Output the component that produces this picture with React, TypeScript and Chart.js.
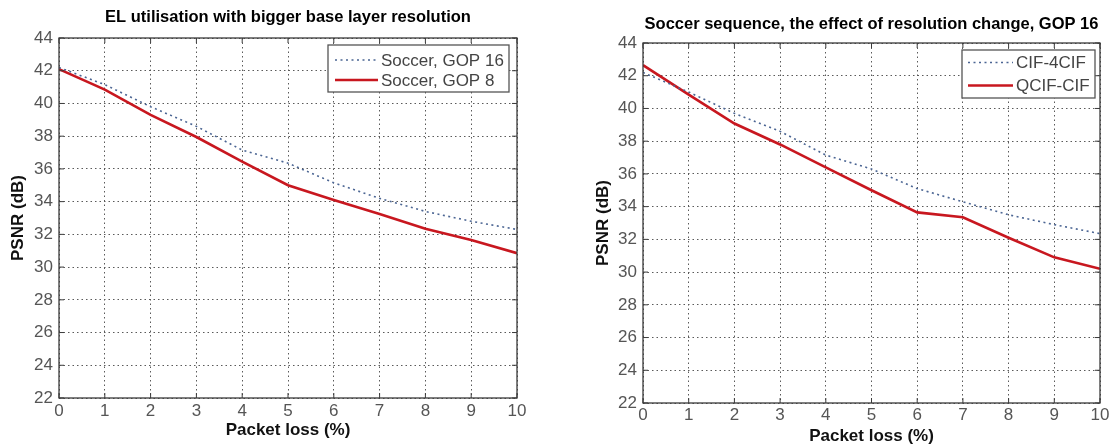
import React, { useEffect, useRef } from "react";
import { Chart, registerables } from "chart.js";

Chart.register(...registerables);

// ---------- data ----------
const packetLoss = [0, 1, 2, 3, 4, 5, 6, 7, 8, 9, 10];

// Left chart: EL utilisation with bigger base layer resolution
const leftTitle = "EL utilisation with bigger base layer resolution";
const leftSeriesNames = ["Soccer, GOP 16", "Soccer, GOP 8"];
const leftGop16 = [42.2, 41.15, 39.8, 38.6, 37.15, 36.35, 35.15, 34.2, 33.4, 32.8, 32.3];
const leftGop8 = [42.1, 40.85, 39.3, 37.95, 36.45, 35.0, 34.1, 33.25, 32.35, 31.65, 30.85];

// Right chart: Soccer sequence, the effect of resolution change, GOP 16
const rightTitle = "Soccer sequence, the effect of resolution change, GOP 16";
const rightSeriesNames = ["CIF-4CIF", "QCIF-CIF"];
const rightCif4cif = [42.2, 41.0, 39.7, 38.6, 37.15, 36.3, 35.1, 34.3, 33.5, 32.9, 32.35];
const rightQcifCif = [42.65, 40.85, 39.08, 37.8, 36.4, 35.0, 33.65, 33.35, 32.1, 30.9, 30.2];

const xAxisTitle = "Packet loss (%)";
const yAxisTitle = "PSNR (dB)";
const xMin = 0;
const xMax = 10;
const yMin = 22;
const yMax = 44;
const yStep = 2;

// ---------- styling ----------
const FONT = '"Liberation Sans", Arial, Helvetica, sans-serif';
const RED = "#c8171f";
const BLUE = "#4b6593";
const TICK_COLOR = "#555";
const FRAME_COLOR = "#3a3a3a";

type PanelCfg = {
  left: number;
  width: number;
  title: string;
  titleY: number;
  names: string[];
  dotted: number[];
  solid: number[];
  yAxisWidth: number;
  xAxisHeight: number;
  padTop: number;
  padRight: number;
  yTitlePad: number;
  xTitlePadBottom: number;
  xTickPad: number;
  legend: {
    width: number;
    height: number;
    marginRight: number;
    marginTop: number;
    row1: number;
    rowH: number;
    padL: number;
    lineLen: number;
    gap: number;
  };
};

const panels: PanelCfg[] = [
  {
    left: 0,
    width: 560,
    title: leftTitle,
    titleY: 17.5,
    names: leftSeriesNames,
    dotted: leftGop16,
    solid: leftGop8,
    yAxisWidth: 59,
    xAxisHeight: 50,
    padTop: 38,
    padRight: 43,
    yTitlePad: 8,
    xTitlePadBottom: 7.8,
    xTickPad: 3,
    legend: { width: 181, height: 47, marginRight: 8, marginTop: 7, row1: 15, rowH: 20, padL: 7, lineLen: 43, gap: 3 },
  },
  {
    left: 560,
    width: 559,
    title: rightTitle,
    titleY: 24,
    names: rightSeriesNames,
    dotted: rightCif4cif,
    solid: rightQcifCif,
    yAxisWidth: 83,
    xAxisHeight: 45,
    padTop: 43,
    padRight: 19,
    yTitlePad: 33,
    xTitlePadBottom: 1,
    xTickPad: 2,
    legend: { width: 133, height: 48, marginRight: 5, marginTop: 7, row1: 12.5, rowH: 23, padL: 6, lineLen: 45, gap: 3 },
  },
];

function makePlugins(cfg: PanelCfg) {
  const titlePlugin = {
    id: "matlabTitle",
    afterDraw(chart: any) {
      const { ctx, chartArea } = chart;
      ctx.save();
      ctx.font = `bold 16.5px ${FONT}`;
      ctx.fillStyle = "#000";
      ctx.textAlign = "center";
      ctx.textBaseline = "middle";
      ctx.fillText(cfg.title, (chartArea.left + chartArea.right) / 2, cfg.titleY);
      ctx.restore();
    },
  };

  const framePlugin = {
    id: "matlabFrame",
    afterDatasetsDraw(chart: any) {
      const { ctx, chartArea } = chart;
      const xs = chart.scales.x;
      const ys = chart.scales.y;
      const { left, right, top, bottom } = chartArea;
      ctx.save();
      ctx.strokeStyle = FRAME_COLOR;
      ctx.lineWidth = 1.3;
      ctx.setLineDash([]);
      ctx.strokeRect(left, top, right - left, bottom - top);
      const tl = 5;
      ctx.lineWidth = 1;
      ctx.beginPath();
      xs.ticks.forEach((t: any) => {
        const px = xs.getPixelForValue(t.value);
        ctx.moveTo(px, bottom);
        ctx.lineTo(px, bottom - tl);
        ctx.moveTo(px, top);
        ctx.lineTo(px, top + tl);
      });
      ys.ticks.forEach((t: any) => {
        const py = ys.getPixelForValue(t.value);
        ctx.moveTo(left, py);
        ctx.lineTo(left + tl, py);
        ctx.moveTo(right, py);
        ctx.lineTo(right - tl, py);
      });
      ctx.stroke();
      ctx.restore();
    },
  };

  const legendPlugin = {
    id: "matlabLegend",
    afterDraw(chart: any) {
      const { ctx, chartArea } = chart;
      const L = cfg.legend;
      const bx = chartArea.right - L.marginRight - L.width;
      const by = chartArea.top + L.marginTop;
      ctx.save();
      ctx.fillStyle = "#fff";
      ctx.fillRect(bx, by, L.width, L.height);
      ctx.strokeStyle = "#555";
      ctx.lineWidth = 1.3;
      ctx.setLineDash([]);
      ctx.strokeRect(bx, by, L.width, L.height);
      chart.data.datasets.forEach((ds: any, i: number) => {
        const y = by + L.row1 + i * L.rowH;
        ctx.beginPath();
        ctx.strokeStyle = ds.borderColor;
        ctx.lineWidth = ds.borderWidth;
        ctx.setLineDash(ds.borderDash || []);
        ctx.moveTo(bx + L.padL, y);
        ctx.lineTo(bx + L.padL + L.lineLen, y);
        ctx.stroke();
        ctx.setLineDash([]);
        ctx.font = `17px ${FONT}`;
        ctx.fillStyle = "#444";
        ctx.textAlign = "left";
        ctx.textBaseline = "middle";
        ctx.fillText(ds.label, bx + L.padL + L.lineLen + L.gap, y + 1);
      });
      ctx.restore();
    },
  };

  const bgPlugin = {
    id: "whiteBg",
    beforeDraw(chart: any) {
      const { ctx, width, height } = chart;
      ctx.save();
      ctx.fillStyle = "#fff";
      ctx.fillRect(0, 0, width, height);
      ctx.restore();
    },
  };

  return [bgPlugin, framePlugin, titlePlugin, legendPlugin];
}

function Panel({ cfg }: { cfg: PanelCfg }) {
  const ref = useRef<HTMLCanvasElement | null>(null);

  useEffect(() => {
    if (!ref.current) return;
    const toPoints = (arr: number[]) => packetLoss.map((x, i) => ({ x, y: arr[i] }));
    const chart = new Chart(ref.current, {
      type: "line",
      data: {
        datasets: [
          {
            label: cfg.names[0],
            data: toPoints(cfg.dotted),
            borderColor: BLUE,
            borderWidth: 1.6,
            borderDash: [2, 3.5],
            pointRadius: 0,
            tension: 0,
            fill: false,
          },
          {
            label: cfg.names[1],
            data: toPoints(cfg.solid),
            borderColor: RED,
            borderWidth: 2.6,
            pointRadius: 0,
            tension: 0,
            fill: false,
          },
        ],
      },
      options: {
        responsive: false,
        animation: false,
        devicePixelRatio: 1,
        layout: { padding: { left: 0, top: cfg.padTop, right: cfg.padRight, bottom: 0 } },
        plugins: {
          legend: { display: false },
          title: { display: false },
          tooltip: { enabled: false },
        },
        scales: {
          x: {
            type: "linear",
            min: xMin,
            max: xMax,
            afterFit: (s: any) => {
              s.height = cfg.xAxisHeight;
            },
            ticks: {
              stepSize: 1,
              padding: cfg.xTickPad,
              color: TICK_COLOR,
              font: { family: FONT, size: 17 },
              maxRotation: 0,
            },
            grid: { color: "#5a5a5a", lineWidth: 1, drawTicks: false },
            border: { display: false, dash: [1.5, 3] },
            title: {
              display: true,
              text: xAxisTitle,
              color: "#111",
              font: { family: FONT, size: 17, weight: "bold" },
              padding: { top: 0, bottom: cfg.xTitlePadBottom },
            },
          },
          y: {
            type: "linear",
            min: yMin,
            max: yMax,
            afterFit: (s: any) => {
              s.width = cfg.yAxisWidth;
            },
            ticks: {
              stepSize: yStep,
              padding: 6,
              color: TICK_COLOR,
              font: { family: FONT, size: 17 },
            },
            grid: { color: "#5a5a5a", lineWidth: 1, drawTicks: false },
            border: { display: false, dash: [1.5, 3] },
            title: {
              display: true,
              text: yAxisTitle,
              color: "#111",
              font: { family: FONT, size: 17, weight: "bold" },
              padding: { top: cfg.yTitlePad, bottom: 0 },
            },
          },
        },
      },
      plugins: makePlugins(cfg),
    } as any);
    return () => chart.destroy();
  }, [cfg]);

  return (
    <canvas
      ref={ref}
      width={cfg.width}
      height={448}
      style={{ position: "absolute", left: cfg.left, top: 0, width: cfg.width, height: 448 }}
    />
  );
}

export default function App() {
  return (
    <div style={{ position: "absolute", left: 0, top: 0, width: 1119, height: 448, background: "#fff", overflow: "hidden" }}>
      {panels.map((p, i) => (
        <Panel key={i} cfg={p} />
      ))}
    </div>
  );
}
